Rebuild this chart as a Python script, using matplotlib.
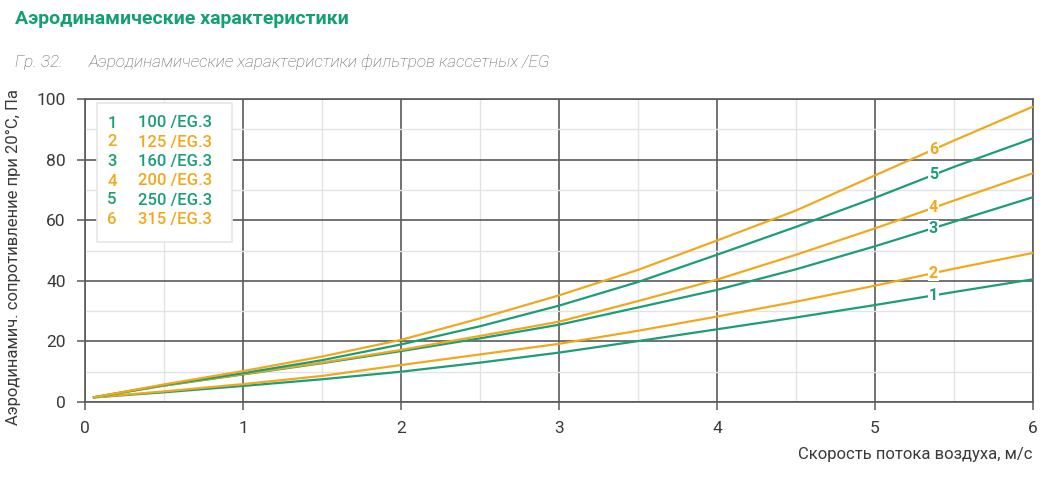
import matplotlib

matplotlib.use("Agg")
import matplotlib.pyplot as plt
from matplotlib.ticker import MultipleLocator
import numpy as np

plt.rcParams["font.family"] = ["Roboto", "DejaVu Sans"]

GREEN = "#1b9e77"
ORANGE = "#f0a91e"
TITLE_GREEN = "#17a06f"

# скорость воздуха, м/с
velocity = [0.05, 0.5, 1.0, 1.5, 2.0, 2.5, 3.0, 3.5, 4.0, 4.5, 5.0, 5.5, 6.0]

# сопротивление, Па (по кривым)
dp_100 = [1.5, 3.2, 5.3, 7.5, 10.0, 13.0, 16.3, 20.1, 24.0, 27.9, 32.0, 36.3, 40.5]
dp_125 = [1.5, 3.5, 5.9, 8.6, 12.2, 15.7, 19.2, 23.5, 28.2, 33.1, 38.4, 44.0, 49.2]
dp_160 = [1.5, 5.4, 9.1, 12.8, 16.8, 21.0, 25.5, 31.2, 37.0, 43.8, 51.4, 59.5, 67.6]
dp_200 = [1.5, 5.5, 9.2, 13.0, 17.2, 21.8, 26.5, 33.3, 40.4, 48.6, 57.3, 66.5, 75.5]
dp_250 = [1.5, 5.6, 9.5, 13.8, 19.0, 25.0, 31.8, 39.6, 48.6, 57.8, 67.4, 77.6, 87.0]
dp_315 = [1.5, 5.8, 10.2, 15.0, 20.5, 27.6, 35.2, 43.6, 53.3, 63.2, 74.8, 86.3, 97.5]

curve_nums = ["1", "2", "3", "4", "5", "6"]
curve_names = ["100 /EG.3", "125 /EG.3", "160 /EG.3", "200 /EG.3", "250 /EG.3", "315 /EG.3"]
curves = [dp_100, dp_125, dp_160, dp_200, dp_250, dp_315]
colors = [GREEN, ORANGE, GREEN, ORANGE, GREEN, ORANGE]
label_x = 5.37

fig = plt.figure(figsize=(10.51, 4.87), dpi=100)
ax = fig.add_axes([85 / 1051, 1 - 402 / 487, (1033 - 85) / 1051, (402 - 99) / 487])

for vals, col, num in zip(curves, colors, curve_nums):
    ax.plot(velocity, vals, color=col, lw=1.6, zorder=3, solid_capstyle="butt")
    ax.text(label_x, np.interp(label_x, velocity, vals), num, color=col,
            fontsize=11.5, fontweight="bold", ha="center", va="center", zorder=4,
            bbox=dict(boxstyle="square,pad=0.05", fc="white", ec="none"))

ax.set_xlim(0, 6)
ax.set_ylim(0, 100)
ax.xaxis.set_major_locator(MultipleLocator(1))
ax.xaxis.set_minor_locator(MultipleLocator(0.5))
ax.yaxis.set_major_locator(MultipleLocator(20))
ax.yaxis.set_minor_locator(MultipleLocator(10))
ax.grid(which="major", color="#5a5a5a", lw=1.2, zorder=1)
ax.grid(which="minor", color="#e3e3e3", lw=1.0, zorder=0)
for sp in ax.spines.values():
    sp.set_color("#5a5a5a")
    sp.set_linewidth(1.2)
ax.tick_params(which="major", length=6, width=1.1, color="#5a5a5a",
               labelsize=12.5, labelcolor="#3a3a3a", pad=8)
ax.tick_params(which="minor", length=0)

ax.set_ylabel("Аэродинамич. сопротивление при 20°С, Па", fontsize=12,
              color="#3a3a3a", labelpad=10)
ax.yaxis.set_label_coords(-0.068, 0.48)
fig.text(1033 / 1051, 1 - 455 / 487, "Скорость потока воздуха, м/с", fontsize=12,
         color="#3a3a3a", ha="right", va="center")

# легенда
box = plt.Rectangle((97 / 1051, 1 - 242 / 487), (232 - 97) / 1051, (242 - 103) / 487,
                    transform=fig.transFigure, fc="white", ec="#e6e6e6", lw=1.2, zorder=5)
fig.patches.append(box)
row_y = [123, 142, 162, 181, 200, 219]
for num, name, col, yy in zip(curve_nums, curve_names, colors, row_y):
    fig.text(112 / 1051, 1 - yy / 487, num, color=col, fontsize=12, fontweight="medium",
             ha="center", va="center", zorder=6)
    fig.text(138 / 1051, 1 - yy / 487, name, color=col, fontsize=12, fontweight="medium",
             ha="left", va="center", zorder=6)

fig.text(15 / 1051, 1 - 19 / 487, "Аэродинамические характеристики", color=TITLE_GREEN,
         fontsize=14, fontweight="bold", ha="left", va="center")
fig.text(15 / 1051, 1 - 62 / 487, "Гр. 32.", color="#5f5f5f", fontsize=12.3,
         style="italic", fontweight="light", ha="left", va="center")
fig.text(89 / 1051, 1 - 62 / 487, "Аэродинамические характеристики фильтров кассетных /EG",
         color="#5f5f5f", fontsize=12.3, style="italic", fontweight="light",
         ha="left", va="center")

fig.savefig("out.png", dpi=100)
plt.close(fig)
